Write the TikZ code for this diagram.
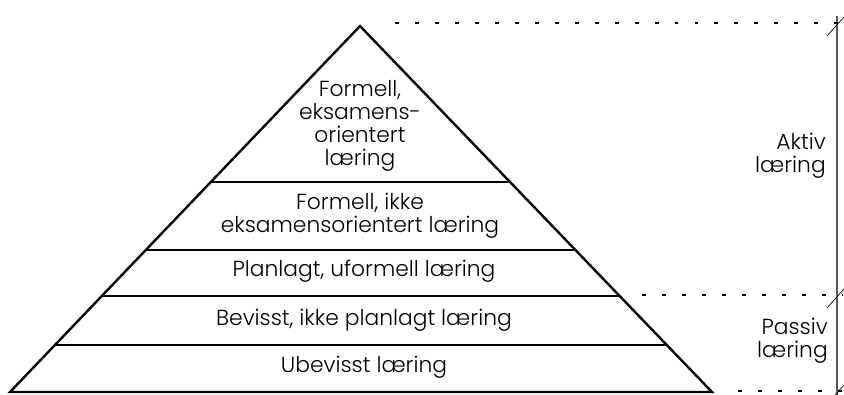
\documentclass[tikz,border=0pt]{standalone}
\usepackage{fontspec}
\setmainfont{Poppins}[UprightFont=* Light]
\usepackage{xcolor}
\usetikzlibrary{calc}

\begin{document}
\begin{tikzpicture}[
  x=0.025cm, y=-0.025cm,
  layer/.style={line width=1.7pt},
  guide/.style={line width=1.4pt, dash pattern=on 2.8pt off 11.4pt},
  tick/.style={line width=0.5pt},
  lbl/.style={align=center, inner sep=0pt, font=\fontsize{15.5}{16.3}\selectfont},
  side/.style={align=right, anchor=east, inner sep=0pt, font=\fontsize{15.5}{16.3}\selectfont}
]
\useasboundingbox (0,0) rectangle (844,395);

% pyramid
\coordinate (top) at (360,26);
\coordinate (bl) at (10,392);
\coordinate (br) at (712,392);
\draw[layer, line join=miter] (bl) -- (top) -- (br) -- cycle;
\foreach \t in {0.426,0.612,0.738,0.872}
  \draw[layer] ($(top)!\t!(bl)$) -- ($(top)!\t!(br)$);

% levels
\node[lbl] (formal) at (360,126) {Formell,\\eksamens-\\orientert\\læring};
\node[lbl] (nonexam) at (360,216) {Formell, ikke\\eksamensorientert læring};
\node[lbl] (planned) at (364,271) {Planlagt, uformell læring};
\node[lbl] (aware) at (364,320) {Bevisst, ikke planlagt læring};
\node[lbl] (unaware) at (364,367) {Ubevisst læring};

% scale on the right
\coordinate (vtop) at (837,16);
\coordinate (vbot) at (837,395);
\draw[gray!70!black, line width=1pt] (vtop) -- (vbot);
\draw[guide] (395,23) -- (842,23);
\draw[guide] (642,295) -- (842,295);
\draw[guide] (738,391) -- (842,391);
\foreach \y in {23,295,391}
  \draw[tick] (827,\y+13) -- (844,\y-6);

\node[side] (active) at (826,156) {Aktiv\\læring};
\node[side] (passive) at (828,341) {Passiv\\læring};
\end{tikzpicture}
\end{document}
